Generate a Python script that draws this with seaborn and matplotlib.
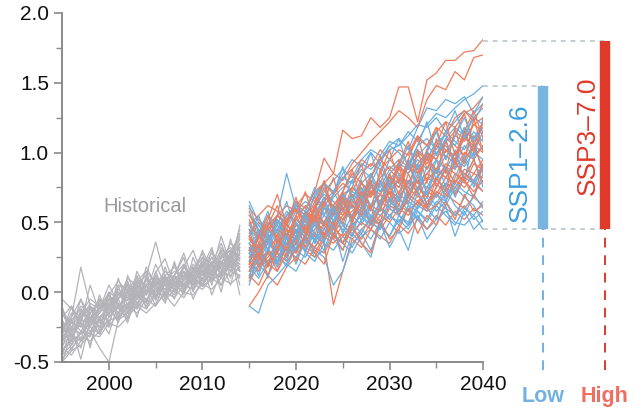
import matplotlib.pyplot as plt
import seaborn as sns
import numpy as np
import pandas as pd

hist_years = list(range(1995, 2015))
future_years = list(range(2015, 2041))

hist_runs = [
    [-0.35,-0.28,-0.20,-0.22,-0.10,-0.05,-0.12,0.02,-0.04,0.05,0.08,0.00,0.10,0.06,0.14,0.18,0.12,0.22,0.25,0.20],
    [-0.20,-0.30,-0.15,-0.18,-0.25,-0.08,0.00,-0.06,0.05,-0.02,0.10,0.06,0.02,0.12,0.08,0.15,0.20,0.14,0.18,0.28],
    [-0.42,-0.35,-0.30,-0.20,-0.22,-0.15,-0.10,-0.12,0.00,-0.05,0.02,0.08,0.05,0.00,0.12,0.10,0.18,0.22,0.15,0.25],
    [-0.25,-0.18,0.18,-0.10,-0.15,-0.05,-0.02,0.05,-0.08,0.02,0.00,0.10,0.12,0.05,0.08,0.20,0.15,0.25,0.30,0.22],
    [-0.30,-0.22,-0.25,-0.12,-0.18,-0.10,-0.04,0.00,0.06,0.12,0.36,0.10,0.05,0.15,0.10,0.12,0.22,0.18,0.28,0.32],
    [-0.48,-0.40,-0.32,-0.35,-0.28,-0.20,-0.18,-0.10,-0.15,-0.05,-0.10,0.00,-0.04,0.05,0.02,0.10,0.08,0.15,0.12,0.18],
    [-0.15,-0.22,-0.10,-0.15,-0.05,-0.12,0.05,0.02,0.10,0.04,0.00,0.08,0.15,0.10,0.18,0.12,0.25,0.20,0.35,0.30],
    [-0.38,-0.30,-0.35,-0.28,-0.40,-0.50,-0.20,-0.15,-0.08,-0.12,-0.02,-0.06,0.02,-0.04,0.06,0.02,0.10,0.05,0.15,0.12],
    [-0.28,-0.15,-0.20,-0.08,-0.12,0.00,-0.05,0.10,0.05,0.00,0.05,0.15,0.08,0.18,0.12,0.22,0.18,0.30,0.25,0.40],
    [-0.05,-0.12,-0.18,-0.10,-0.20,-0.08,-0.12,-0.02,0.04,0.08,0.02,-0.04,0.10,0.14,0.05,0.10,0.15,0.22,0.18,0.15],
    [-0.45,-0.38,-0.28,-0.30,-0.20,-0.25,-0.15,-0.08,-0.12,0.00,0.05,0.02,0.08,0.02,0.10,0.06,0.16,0.10,0.20,0.24],
    [-0.32,-0.25,-0.15,-0.05,-0.10,-0.02,0.08,0.00,-0.05,0.10,0.04,0.12,0.18,0.08,0.15,0.25,0.20,0.28,0.22,0.35],
    [-0.22,-0.32,-0.22,-0.28,-0.18,-0.12,-0.20,-0.10,-0.02,-0.10,0.00,0.05,-0.02,0.10,0.15,0.08,0.12,0.18,0.26,0.20],
    [-0.40,-0.45,-0.35,-0.25,-0.30,-0.18,-0.10,-0.15,-0.05,0.02,-0.03,0.06,0.10,0.04,0.08,0.16,0.10,0.20,0.16,0.28],
    [-0.18,-0.10,-0.25,-0.15,-0.08,-0.15,-0.02,0.06,0.00,0.06,0.12,0.05,0.00,0.08,0.20,0.14,0.25,0.12,0.22,0.18],
    [-0.35,-0.20,-0.28,-0.18,-0.12,-0.05,-0.08,-0.12,0.04,-0.02,0.08,0.02,0.12,0.20,0.10,0.05,0.14,0.24,0.30,0.26],
    [-0.50,-0.42,-0.38,-0.30,-0.32,-0.22,-0.25,-0.18,-0.10,-0.15,-0.08,-0.02,-0.10,0.00,-0.02,0.06,0.02,0.10,0.06,0.12],
    [-0.26,-0.20,-0.12,-0.20,-0.05,-0.10,0.02,-0.04,0.08,0.15,0.06,0.10,0.04,0.12,0.06,0.18,0.28,0.16,0.24,0.45],
    [-0.30,-0.35,-0.18,-0.12,-0.22,-0.15,-0.05,0.04,-0.02,0.05,-0.05,0.10,0.02,0.06,0.12,0.20,0.08,0.14,0.20,0.10],
    [-0.12,-0.25,-0.30,-0.22,-0.15,-0.02,-0.10,-0.05,0.02,-0.06,0.04,0.00,0.06,0.00,0.10,0.04,0.10,0.26,0.32,0.24],
    [-0.40,-0.20,-0.35,-0.10,-0.28,0.00,-0.18,0.08,-0.10,0.12,-0.05,0.18,0.00,0.20,0.02,0.25,0.05,0.30,0.10,0.35],
    [-0.10,-0.35,-0.15,-0.40,-0.05,-0.25,0.05,-0.15,0.12,-0.08,0.15,-0.02,0.22,0.00,0.25,0.08,0.30,0.12,0.38,0.15],
    [-0.45,-0.25,-0.48,-0.20,-0.30,-0.10,-0.22,0.00,-0.12,0.10,-0.02,0.05,0.20,0.02,0.16,0.28,0.08,0.22,0.05,0.30],
    [-0.30,-0.10,-0.22,0.05,-0.15,-0.02,-0.20,0.12,-0.05,0.18,0.05,-0.08,0.12,0.25,0.00,0.18,0.32,0.10,0.28,0.42],
    [-0.20,-0.42,-0.28,-0.32,-0.08,-0.22,-0.05,-0.18,0.06,-0.12,0.10,-0.05,0.08,-0.02,0.18,0.05,0.22,0.00,0.30,0.05],
    [-0.36,-0.18,-0.05,-0.25,-0.12,0.05,-0.08,-0.20,0.02,0.15,-0.06,0.12,0.02,0.18,0.30,0.12,0.20,0.35,0.18,0.48],
    [-0.50,-0.30,-0.40,-0.15,-0.25,-0.05,-0.15,0.02,-0.18,0.05,-0.10,0.10,-0.05,0.15,0.05,0.20,-0.02,0.15,0.28,-0.02],
    [-0.24,-0.38,-0.12,-0.25,-0.02,-0.18,0.10,-0.10,0.15,0.00,0.20,0.05,0.12,0.28,0.08,0.22,0.12,0.32,0.22,0.38],
    [-0.42,-0.32,-0.22,-0.38,-0.18,-0.30,-0.08,-0.22,0.00,-0.08,0.12,-0.02,0.06,0.15,-0.05,0.10,0.20,0.05,0.25,0.15],
    [-0.15,-0.28,-0.05,-0.18,-0.30,-0.12,0.00,-0.12,0.08,-0.02,0.14,0.24,0.05,0.18,0.10,0.30,0.15,0.40,0.20,0.32],
]

ssp126_runs = [
    [0.30,0.25,0.38,0.45,0.40,0.52,0.48,0.60,0.55,0.68,0.75,0.80,0.92,0.88,0.95,1.02,1.05,1.15,1.08,1.20,1.28,1.25,1.32,1.38,1.42,1.48],
    [0.45,0.38,0.50,0.42,0.55,0.60,0.52,0.70,0.78,0.72,0.85,0.95,0.90,1.00,0.92,1.05,1.10,1.02,1.18,1.32,1.30,1.38,1.35,1.40,1.28,1.35],
    [0.20,0.15,0.28,0.22,0.35,0.30,0.25,0.38,0.30,0.42,0.35,0.28,0.40,0.45,0.38,0.50,0.42,0.48,0.55,0.45,0.52,0.58,0.50,0.48,0.55,0.45],
    [0.65,0.50,0.42,0.55,0.48,0.62,0.58,0.50,0.65,0.72,0.60,0.68,0.75,0.62,0.70,0.82,0.75,0.90,0.78,0.85,0.95,0.88,1.00,0.92,1.05,1.10],
    [-0.10,-0.15,0.05,0.12,0.20,0.15,0.28,0.22,0.35,0.30,0.40,0.32,0.45,0.38,0.50,0.55,0.48,0.60,0.52,0.65,0.70,0.62,0.75,0.68,0.80,0.72],
    [0.35,0.42,0.30,0.55,0.85,0.60,0.50,0.58,0.65,0.55,0.70,0.62,0.78,0.85,0.72,0.80,0.90,0.85,0.95,0.88,1.00,1.05,0.95,1.12,1.02,1.15],
    [0.25,0.32,0.20,0.28,0.38,0.45,0.35,0.50,0.42,0.38,0.30,0.48,0.55,0.45,0.60,0.52,0.68,0.58,0.75,0.70,0.62,0.78,0.72,0.85,0.80,0.92],
    [0.30,0.22,0.35,0.28,0.18,0.32,0.40,0.30,0.25,0.05,0.15,0.35,0.42,0.30,0.48,0.40,0.55,0.50,0.62,0.58,0.70,0.65,0.78,0.72,0.68,0.85],
    [0.15,0.25,0.18,0.30,0.35,0.28,0.42,0.48,0.40,0.52,0.60,0.55,0.48,0.62,0.70,0.65,0.58,0.72,0.80,0.75,0.88,0.82,0.95,0.90,1.00,0.95],
    [0.38,0.30,0.45,0.52,0.45,0.58,0.65,0.60,0.72,0.80,0.88,0.82,0.95,1.02,0.98,1.08,1.05,1.12,1.20,1.18,1.25,1.15,1.22,1.30,1.25,1.20],
    [0.22,0.35,0.28,0.20,0.32,0.40,0.48,0.38,0.45,0.55,0.50,0.45,0.58,0.52,0.65,0.60,0.55,0.48,0.60,0.68,0.58,0.65,0.55,0.62,0.52,0.58],
    [0.48,0.40,0.55,0.48,0.40,0.52,0.45,0.62,0.70,0.65,0.58,0.72,0.68,0.80,0.75,0.88,0.95,0.90,1.02,0.95,1.08,1.12,1.05,1.18,1.10,1.22],
    [0.10,0.20,0.12,0.25,0.20,0.35,0.30,0.42,0.38,0.50,0.45,0.40,0.52,0.60,0.55,0.62,0.70,0.65,0.60,0.72,0.80,0.75,0.70,0.82,0.78,0.88],
    [0.28,0.38,0.45,0.35,0.42,0.38,0.55,0.48,0.60,0.58,0.68,0.75,0.70,0.62,0.78,0.72,0.65,0.80,0.72,0.90,0.85,0.98,0.92,1.05,0.98,1.05],
    [0.55,0.48,0.40,0.45,0.58,0.50,0.42,0.55,0.48,0.58,0.52,0.62,0.55,0.48,0.60,0.55,0.50,0.62,0.58,0.52,0.65,0.60,0.55,0.68,0.62,0.50],
    [0.18,0.10,0.22,0.32,0.25,0.38,0.30,0.45,0.55,0.48,0.62,0.70,0.65,0.78,0.72,0.85,0.92,0.88,0.98,1.05,0.98,1.10,1.18,1.12,1.25,1.32],
    [0.32,0.28,0.20,0.35,0.30,0.25,0.38,0.32,0.45,0.40,0.35,0.50,0.42,0.55,0.48,0.40,0.52,0.45,0.58,0.50,0.62,0.55,0.48,0.60,0.55,0.65],
    [0.40,0.48,0.38,0.45,0.55,0.62,0.55,0.68,0.78,0.72,0.82,0.78,0.88,0.82,0.95,1.05,1.00,0.92,1.05,1.10,1.02,1.15,1.08,1.02,1.15,1.08],
    [0.50,0.25,0.42,0.20,0.45,0.30,0.55,0.35,0.62,0.40,0.68,0.48,0.75,0.52,0.80,0.60,0.85,0.62,0.92,0.70,0.95,0.75,1.02,0.80,1.08,0.85],
    [0.05,0.30,0.10,0.38,0.22,0.45,0.28,0.52,0.35,0.60,0.42,0.70,0.50,0.78,0.58,0.85,0.65,0.95,0.72,1.02,0.80,1.10,0.88,1.18,0.95,1.25],
    [0.40,0.55,0.35,0.48,0.65,0.42,0.58,0.75,0.55,0.70,0.90,0.65,0.82,1.00,0.78,0.95,1.10,0.88,1.05,1.22,0.98,1.15,1.30,1.10,1.28,1.40],
    [0.28,0.12,0.32,0.18,0.40,0.20,0.38,0.25,0.30,0.48,0.22,0.42,0.35,0.25,0.50,0.32,0.45,0.30,0.55,0.38,0.48,0.62,0.40,0.58,0.45,0.52],
    [0.62,0.42,0.58,0.35,0.50,0.65,0.45,0.60,0.78,0.55,0.70,0.50,0.68,0.85,0.62,0.80,0.58,0.75,0.92,0.70,0.88,0.65,0.82,0.98,0.75,0.92],
    [0.12,0.28,0.40,0.22,0.35,0.50,0.38,0.55,0.68,0.50,0.65,0.80,0.62,0.78,0.92,0.75,0.90,1.05,0.88,1.00,1.15,0.95,1.12,1.25,1.08,1.18],
    [0.35,0.20,0.30,0.45,0.28,0.40,0.55,0.35,0.48,0.62,0.42,0.55,0.70,0.48,0.62,0.78,0.55,0.68,0.85,0.62,0.75,0.90,0.68,0.82,0.95,0.75],
    [0.22,0.45,0.30,0.52,0.38,0.30,0.55,0.42,0.35,0.60,0.48,0.40,0.62,0.50,0.45,0.68,0.55,0.48,0.72,0.60,0.52,0.75,0.62,0.55,0.70,0.60],
]

ssp370_runs = [
    [0.30,0.38,0.45,0.40,0.55,0.62,0.58,0.72,0.96,0.85,1.16,1.10,1.12,1.25,1.18,1.25,1.47,1.47,1.22,1.52,1.57,1.66,1.66,1.72,1.73,1.81],
    [0.40,0.32,0.48,0.55,0.50,0.62,0.70,0.65,0.78,0.85,0.80,0.92,1.00,1.08,1.15,1.22,1.30,1.25,1.18,1.38,1.48,1.45,1.58,1.52,1.68,1.70],
    [0.20,0.28,0.35,0.30,0.42,0.38,0.45,0.40,0.35,-0.09,0.15,0.38,0.45,0.52,0.48,0.60,0.55,0.68,0.62,0.75,0.70,0.82,0.78,0.88,0.85,0.95],
    [-0.10,0.00,0.12,0.05,0.18,0.25,0.20,0.32,0.28,0.40,0.35,0.45,0.38,0.50,0.45,0.55,0.62,0.58,0.65,0.72,0.68,0.78,0.75,0.85,0.80,0.90],
    [0.35,0.28,0.40,0.32,0.48,0.42,0.55,0.50,0.45,0.58,0.65,0.60,0.72,0.68,0.80,0.75,0.88,0.85,0.98,0.92,1.05,1.00,1.12,1.08,1.20,1.25],
    [0.55,0.45,0.38,0.50,0.45,0.40,0.52,0.58,0.50,0.62,0.55,0.68,0.78,0.72,0.65,0.80,0.75,0.90,0.85,0.95,1.08,1.02,0.95,1.15,1.10,1.18],
    [0.15,0.22,0.30,0.25,0.35,0.30,0.40,0.48,0.42,0.50,0.58,0.52,0.60,0.55,0.48,0.62,0.58,0.70,0.65,0.60,0.72,0.68,0.80,0.75,0.85,0.82],
    [0.28,0.20,0.25,0.35,0.30,0.38,0.32,0.28,0.40,0.35,0.42,0.38,0.32,0.45,0.40,0.35,0.48,0.42,0.52,0.45,0.55,0.48,0.58,0.52,0.60,0.55],
    [0.42,0.50,0.45,0.38,0.52,0.60,0.55,0.68,0.62,0.70,0.78,0.72,0.85,0.92,0.88,0.95,1.02,0.98,1.10,1.05,1.15,1.22,1.18,1.28,1.32,1.40],
    [0.22,0.15,0.30,0.40,0.35,0.48,0.42,0.38,0.50,0.45,0.55,0.62,0.58,0.50,0.65,0.72,0.68,0.78,0.72,0.85,0.80,0.92,0.88,1.00,0.95,1.05],
    [0.30,0.40,0.35,0.55,0.48,0.42,0.58,0.52,0.68,0.62,0.72,0.85,0.78,0.70,0.82,0.90,0.85,0.78,0.92,1.00,0.95,1.10,1.05,0.98,1.12,1.02],
    [0.48,0.55,0.62,0.58,0.52,0.65,0.60,0.72,0.78,0.70,0.82,0.88,0.95,0.90,1.02,0.95,0.88,1.00,1.12,1.05,1.18,1.12,1.25,1.30,1.22,1.35],
    [0.18,0.25,0.20,0.15,0.28,0.35,0.30,0.25,0.38,0.45,0.40,0.48,0.55,0.62,0.58,0.65,0.72,0.80,0.75,0.68,0.82,0.90,0.85,0.78,0.92,0.88],
    [0.38,0.30,0.22,0.32,0.40,0.35,0.45,0.55,0.50,0.42,0.52,0.58,0.65,0.60,0.70,0.62,0.58,0.65,0.75,0.82,0.78,0.70,0.85,0.80,0.72,0.80],
    [0.08,0.18,0.28,0.22,0.32,0.45,0.40,0.52,0.48,0.58,0.52,0.65,0.60,0.75,0.70,0.82,0.78,0.92,0.88,1.00,0.95,1.08,1.15,1.10,1.20,1.15],
    [0.60,0.52,0.45,0.55,0.62,0.58,0.50,0.65,0.60,0.55,0.68,0.62,0.58,0.72,0.78,0.70,0.82,0.75,0.68,0.80,0.88,0.82,0.92,0.85,0.78,0.72],
    [0.25,0.32,0.38,0.45,0.40,0.52,0.62,0.55,0.50,0.62,0.70,0.75,0.68,0.82,0.95,0.88,0.80,0.92,1.00,0.95,0.88,1.02,0.98,1.10,1.05,1.00],
    [0.12,0.05,0.20,0.28,0.22,0.30,0.38,0.32,0.42,0.38,0.48,0.42,0.50,0.45,0.55,0.50,0.60,0.55,0.65,0.58,0.62,0.70,0.65,0.60,0.68,0.62],
    [0.45,0.22,0.40,0.28,0.50,0.35,0.58,0.40,0.65,0.45,0.72,0.52,0.80,0.58,0.88,0.65,0.95,0.70,1.02,0.78,1.10,0.85,1.18,0.92,1.25,1.00],
    [0.10,0.35,0.18,0.42,0.25,0.50,0.32,0.55,0.40,0.62,0.48,0.70,0.55,0.78,0.62,0.85,0.70,0.92,0.78,1.00,0.85,1.08,0.92,1.15,1.00,1.22],
    [0.52,0.35,0.48,0.62,0.40,0.55,0.72,0.50,0.65,0.82,0.58,0.75,0.92,0.68,0.85,1.02,0.78,0.95,1.12,0.88,1.05,1.22,0.98,1.15,1.30,1.10],
    [0.32,0.18,0.30,0.15,0.35,0.22,0.40,0.28,0.20,0.42,0.30,0.48,0.35,0.28,0.52,0.38,0.45,0.60,0.42,0.55,0.48,0.65,0.52,0.70,0.58,0.62],
    [0.20,0.40,0.55,0.35,0.50,0.68,0.45,0.62,0.80,0.58,0.72,0.88,0.65,0.82,0.98,0.75,0.92,1.08,0.85,1.02,1.18,0.95,1.12,1.28,1.05,1.22],
    [0.58,0.38,0.52,0.70,0.48,0.60,0.42,0.58,0.75,0.55,0.68,0.50,0.65,0.80,0.60,0.75,0.90,0.68,0.82,0.98,0.75,0.90,0.78,0.95,1.05,0.88],
    [0.15,0.28,0.12,0.32,0.45,0.28,0.40,0.55,0.38,0.50,0.35,0.52,0.65,0.48,0.60,0.72,0.55,0.68,0.80,0.62,0.75,0.88,0.70,0.82,0.95,0.78],
    [0.40,0.25,0.48,0.38,0.30,0.55,0.42,0.62,0.48,0.40,0.65,0.52,0.72,0.60,0.50,0.75,0.62,0.85,0.70,0.60,0.82,0.72,0.95,0.80,0.68,0.92],
]

scenarios = ['SSP1\u20132.6', 'SSP3\u20137.0']
range_low = [0.45, 0.45]
range_high = [1.48, 1.80]
bar_x = [2046.4, 2053.0]
bar_labels = ['Low', 'High']

# long tables for seaborn
hist_df = pd.DataFrame([
    {'year': y, 'value': v, 'run': i}
    for i, run in enumerate(hist_runs) for y, v in zip(hist_years, run)
])
rows = []
for i in range(len(ssp126_runs)):
    for name, runs in zip(scenarios, [ssp126_runs, ssp370_runs]):
        for y, v in zip(future_years, runs[i]):
            rows.append({'year': y, 'value': v, 'run': f'{name}_{i}', 'scenario': name})
fut_df = pd.DataFrame(rows)

sns.set_style('ticks')
plt.rcParams['font.family'] = ['Liberation Sans', 'DejaVu Sans']

line_blue = '#6aafe2'
line_orange = '#ee7c5c'
bar_colors = ['#78b4e0', '#e0392a']
text_colors = ['#3a9ee0', '#e0392a']
lowhigh_colors = ['#72b2e0', '#ee6e62']

fig = plt.figure(figsize=(6.34, 4.17), dpi=100)
ax = fig.add_axes([0.098, 0.132, 0.664, 0.837])

sns.lineplot(data=hist_df, x='year', y='value', units='run', estimator=None,
             color='#b4b4b8', lw=0.9, ax=ax, legend=False)

# interleave the two scenarios run by run
for i in range(len(ssp126_runs)):
    sub = fut_df[fut_df['run'].isin([f'{scenarios[0]}_{i}', f'{scenarios[1]}_{i}'])]
    sns.lineplot(data=sub, x='year', y='value', units='run', estimator=None,
                 hue='scenario', palette={scenarios[0]: line_blue, scenarios[1]: line_orange},
                 lw=0.9, ax=ax, legend=False)

ax.set_xlim(1995, 2040)
ax.set_ylim(-0.5, 2.0)
ax.set_xticks([2000, 2010, 2020, 2030, 2040])
ax.set_xticks([2005, 2015, 2025, 2035], minor=True)
ax.set_yticks([-0.5, 0.0, 0.5, 1.0, 1.5, 2.0])
ax.set_yticklabels(['-0.5', '0.0', '0.5', '1.0', '1.5', '2.0'])
ax.set_yticks(np.arange(-0.25, 2.0, 0.5), minor=True)
ax.set_xlabel('')
ax.set_ylabel('')
for s in ['top', 'right']:
    ax.spines[s].set_visible(False)
for s in ['left', 'bottom']:
    ax.spines[s].set_color('#8a8a8a')
    ax.spines[s].set_linewidth(1.4)
ax.tick_params(axis='both', which='major', length=6, width=1.2, color='#8a8a8a',
               labelsize=15, labelcolor='#111111')
ax.tick_params(axis='both', which='minor', length=4, width=1.0, color='#8a8a8a')

ax.text(2003.8, 0.61, 'Historical', color='#9a9a9e', fontsize=14.5,
        ha='center', va='center')

# range bars beyond the axes
for k in range(2):
    ax.plot([2040, bar_x[k]], [range_high[k]] * 2, ls=(0, (2.5, 2.5)), color='#c5cdd4',
            lw=1.4, clip_on=False)
ax.plot([2040, bar_x[1]], [range_low[1]] * 2, ls=(0, (2.5, 2.5)), color='#c5cdd4',
        lw=1.4, clip_on=False)
for k in range(2):
    ax.plot([bar_x[k]] * 2, [range_low[k], range_high[k]], color=bar_colors[k],
            lw=7.5, solid_capstyle='butt', clip_on=False)
    ax.plot([bar_x[k]] * 2, [-0.56, range_low[k]], color=lowhigh_colors[k] if k == 0 else bar_colors[k],
            lw=1.4, ls=(0, (5, 4)), clip_on=False)
    ax.text(bar_x[k], -0.75, bar_labels[k], color=lowhigh_colors[k], fontsize=15.5,
            fontweight='bold', ha='center', va='center', clip_on=False)

ax.text(2043.95, 0.925, scenarios[0], color=text_colors[0], fontsize=19,
        rotation=90, ha='center', va='center')
ax.text(2051.2, 1.12, scenarios[1], color=text_colors[1], fontsize=19,
        rotation=90, ha='center', va='center')

plt.savefig('out.png', dpi=100)
